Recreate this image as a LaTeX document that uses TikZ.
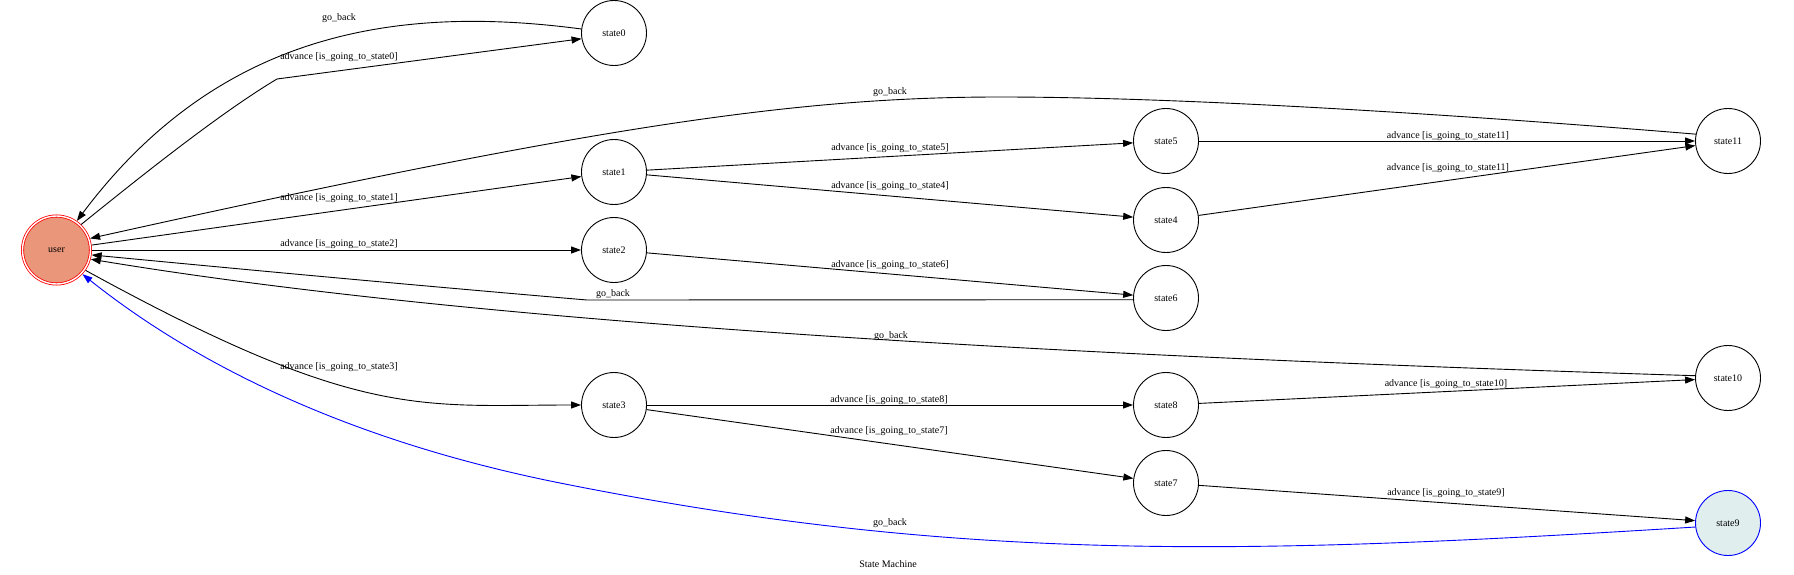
\documentclass[tikz,border=0pt]{standalone}
\usepackage{fontspec}
\setmainfont{Liberation Serif}
\usetikzlibrary{arrows.meta}
\definecolor{darksalmon}{HTML}{E9967A}
\definecolor{azuretwo}{HTML}{E0EEEE}
\newcommand{\advlabel}[1]{advance [is\_going\_to\_state#1]}
\begin{document}
\begin{tikzpicture}[x=1pt, y=-1pt, >={Triangle[length=10pt,width=7pt]},
	every node/.style={font=\fontsize{10}{12}\selectfont},
	st/.style={circle, draw, minimum size=65pt, inner sep=0pt, line width=0.9pt},
	edge/.style={->, line width=0.9pt}]
\path[fill=white, use as bounding box] (0,0) rectangle (1794,575);
\node[st, draw=red, line width=0.8pt, double=white, double distance=1.4pt, fill=darksalmon, minimum size=68pt, outer sep=1.5pt] (user) at (56.5,250) {user};
\foreach \n/\x/\y in {state0/614/33, state1/614/172, state2/614/250, state3/614/405, state5/1166/141, state4/1166/220, state6/1166/298, state8/1166/405, state7/1166/483, state11/1728/141, state10/1728/378}
	\node[st] (\n) at (\x,\y) {\n};
\node[st, draw=blue, fill=azuretwo] (state9) at (1728,523) {state9};
\foreach \a/\b in {user/state1, user/state2, state1/state5, state1/state4, state2/state6, state3/state8, state3/state7, state5/state11, state4/state11, state8/state10, state7/state9}
	\draw[edge] (\a) -- (\b);
\draw[edge] (user.46) .. controls (140,177) and (220,113) .. (277,79) -- (state0.190);
\draw[edge] (state0.173) .. controls (400,5) and (220,30) .. (user.55);
\draw[edge] (state11.168) .. controls (1500,118) and (1200,97) .. (1000,97) .. controls (800,97) and (600,125) .. (user.19);
\draw[edge] (state6.183) -- (587,300) .. controls (400,284) and (250,270) .. (user.-8);
\draw[edge] (state10.176) .. controls (1096,357) and (494,326) .. (user.-15);
\draw[edge] (user.-35) .. controls (360,421) and (420,405) .. (state3);
\draw[edge, blue] (state9.187) .. controls (1246,555) and (960,563) .. (560,483) .. controls (360,443) and (204,371) .. (user.-43);
\foreach \n/\x/\y/\t in {back0/339/18/go\_back, adv0/339/57/\advlabel{0}, back11/890/92/go\_back, adv1/339/198/\advlabel{1}, adv2/339/244/\advlabel{2}, back6/613/294/go\_back, back10/891/336/go\_back, adv3/339/367/\advlabel{3}, back9/890/523/go\_back, adv5/890/148/\advlabel{5}, adv4/890/186/\advlabel{4}, adv6/890/265/\advlabel{6}, adv11a/1448/136/\advlabel{11}, adv11b/1448/168/\advlabel{11}, adv8/889/400/\advlabel{8}, adv7/889/431/\advlabel{7}, adv10/1446/384/\advlabel{10}, adv9/1446/493/\advlabel{9}}
	\node (\n) at (\x,\y) {\t};
\node (title) at (888,564) {State Machine};
\end{tikzpicture}
\end{document}
